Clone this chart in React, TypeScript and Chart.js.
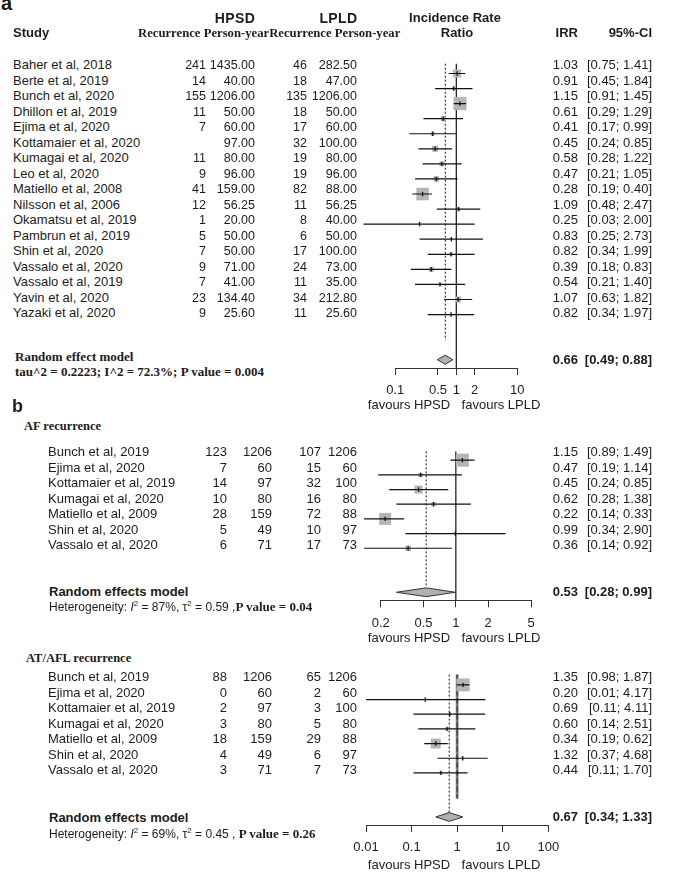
import React, { useEffect, useRef } from "react";
import { Chart, registerables } from "chart.js";

Chart.register(...registerables);

// ---------------- Panel a : all recurrence ----------------
const studiesA = [
  "Baher et al, 2018", "Berte et al, 2019", "Bunch et al, 2020", "Dhillon et al, 2019",
  "Ejima et al, 2020", "Kottamaier et al, 2020", "Kumagai et al, 2020", "Leo et al, 2020",
  "Matiello et al, 2008", "Nilsson et al, 2006", "Okamatsu et al, 2019", "Pambrun et al, 2019",
  "Shin et al, 2020", "Vassalo et al, 2020", "Vassalo et al, 2019", "Yavin et al, 2020", "Yazaki et al, 2020",
];
const hpsdRecA = [241, 14, 155, 11, 7, null, 11, 9, 41, 12, 1, 5, 7, 9, 7, 23, 9];
const hpsdPyA = [1435, 40, 1206, 50, 60, 97, 80, 96, 159, 56.25, 20, 50, 50, 71, 41, 134.4, 25.6];
const lpldRecA = [46, 18, 135, 18, 17, 32, 19, 19, 82, 11, 8, 6, 17, 24, 11, 34, 11];
const lpldPyA = [282.5, 47, 1206, 50, 60, 100, 80, 96, 88, 56.25, 40, 50, 100, 73, 35, 212.8, 25.6];
const irrA = [1.03, 0.91, 1.15, 0.61, 0.41, 0.45, 0.58, 0.47, 0.28, 1.09, 0.25, 0.83, 0.82, 0.39, 0.54, 1.07, 0.82];
const loA = [0.75, 0.45, 0.91, 0.29, 0.17, 0.24, 0.28, 0.21, 0.19, 0.48, 0.03, 0.25, 0.34, 0.18, 0.21, 0.63, 0.34];
const hiA = [1.41, 1.84, 1.45, 1.29, 0.99, 0.85, 1.22, 1.05, 0.4, 2.47, 2.0, 2.73, 1.99, 0.83, 1.4, 1.82, 1.97];
const weightA = [10.1, 1.4, 26.7, 3.9, 2.5, 5.7, 3.9, 4.7, 24.6, 1.9, 0.6, 0.6, 1.4, 3.9, 1.4, 5.7, 0.6];
const pooledA = [0.66, 0.49, 0.88];
const ticksA = [0.1, 0.5, 1, 2, 10];
const tickLabelsA = ["0.1", "0.5", "1", "2", "10"];

// ---------------- Panel b : AF and AT/AFL recurrence ----------------
const studiesB = [
  "Bunch et al, 2019", "Ejima et al, 2020", "Kottamaier et al, 2019", "Kumagai et al, 2020",
  "Matiello et al, 2009", "Shin et al, 2020", "Vassalo et al, 2020",
];
const hpsdPyB = [1206, 60, 97, 80, 159, 49, 71];
const lpldPyB = [1206, 60, 100, 80, 88, 97, 73];

const hpsdRecAF = [123, 7, 14, 10, 28, 5, 6];
const lpldRecAF = [107, 15, 32, 16, 72, 10, 17];
const irrAF = [1.15, 0.47, 0.45, 0.62, 0.22, 0.99, 0.36];
const loAF = [0.89, 0.19, 0.24, 0.28, 0.14, 0.34, 0.14];
const hiAF = [1.49, 1.14, 0.85, 1.38, 0.33, 2.9, 0.92];
const weightAF = [37.6, 3.6, 14.3, 4.5, 32.1, 1.3, 6.7];
const pooledAF = [0.53, 0.28, 0.99];
const ticksAF = [0.2, 0.5, 1, 2, 5];
const tickLabelsAF = ["0.2", "0.5", "1", "2", "5"];

const hpsdRecAT = [88, 0, 2, 3, 18, 4, 3];
const lpldRecAT = [65, 2, 3, 5, 29, 6, 7];
const irrAT = [1.35, 0.2, 0.69, 0.6, 0.34, 1.32, 0.44];
const loAT = [0.98, 0.01, 0.11, 0.14, 0.19, 0.37, 0.11];
const hiAT = [1.87, 4.17, 4.11, 2.51, 0.62, 4.68, 1.7];
const weightAT = [56.4, 0.8, 1.3, 3.0, 33.4, 2.1, 3.0];
const pooledAT = [0.67, 0.34, 1.33];
const ticksAT = [0.01, 0.1, 1, 10, 100];
const tickLabelsAT = ["0.01", "0.1", "1", "10", "100"];

// ---------------- layout / style ----------------
const ROW = 15.5;
const CANVAS_LEFT = 300;
const CANVAS_W = 283;
const AXIS_H = 45;
const SANS = '"Liberation Sans", Arial, Helvetica, sans-serif';
const SERIF = '"Liberation Serif", "Times New Roman", serif';
const INK = "#1c1c1c";

type ForestProps = {
  irr: number[]; lo: number[]; hi: number[]; weight: number[]; pooled: number[];
  ticks: number[]; tickLabels: string[];
  rowY0: number; pooledRow: number; axisMin: number; axisMax: number;
  axisLeft: number; axisRight: number; refTop: number; dottedEnd: number;
  thickRef?: boolean; thickEnd?: number;
};

function Forest(p: ForestProps) {
  const ref = useRef<HTMLCanvasElement | null>(null);
  const yMaxRow = p.pooledRow + 0.55;
  const axisY = p.rowY0 + yMaxRow * ROW;
  const top = Math.round(p.rowY0 - 1.6 * ROW);
  const yMinRow = (top - p.rowY0) / ROW;
  const areaH = axisY - top;
  const height = Math.ceil(areaH + AXIS_H);
  const axisH = height - areaH;

  useEffect(() => {
    const canvas = ref.current;
    if (!canvas) return;
    const maxW = Math.max(...p.weight);
    const pts = p.irr.map((v, i) => ({ x: v, y: i }));
    const ci: any[] = [];
    p.irr.forEach((_, i) => {
      ci.push({ x: p.lo[i], y: i }, { x: p.hi[i], y: i }, { x: p.hi[i], y: null });
    });
    const [est, plo, phi] = p.pooled;
    const h = 0.3;
    const r = p.pooledRow;
    const diamond = [
      { x: plo, y: r }, { x: est, y: r - h }, { x: phi, y: r }, { x: est, y: r + h }, { x: plo, y: r },
    ];
    const ds: any[] = [];
    if (p.thickRef) {
      const seg = [{ x: 1, y: p.refTop }, { x: 1, y: p.thickEnd }];
      ds.push({ type: "line", data: seg, borderColor: "#7a7a7a", borderWidth: 2.8, pointRadius: 0, fill: false, order: 8, clip: false });
      ds.push({ type: "line", data: seg, borderColor: "#2a2a2a", borderWidth: 1, borderDash: [5, 3], pointRadius: 0, fill: false, order: 7, clip: false });
    } else {
      ds.push({ type: "line", data: [{ x: 1, y: p.refTop }, { x: 1, y: yMaxRow }], borderColor: "#111", borderWidth: 1.2, pointRadius: 0, fill: false, order: 8, clip: false });
    }
    ds.push({ type: "line", data: [{ x: est, y: p.refTop }, { x: est, y: p.dottedEnd }], borderColor: "#111", borderWidth: 1, borderDash: [2, 2], pointRadius: 0, fill: false, order: 6, clip: false });
    ds.push({
      type: "scatter", data: pts, pointStyle: "rect",
      pointRadius: p.weight.map((w) => Math.max(1.6, 13 * Math.sqrt(w / maxW)) / Math.SQRT2),
      pointBackgroundColor: "#b5b5b5", pointBorderWidth: 0, pointBorderColor: "rgba(0,0,0,0)", order: 5, clip: false,
    });
    ds.push({ type: "line", data: ci, borderColor: "#111", borderWidth: 1.2, pointRadius: 0, spanGaps: false, fill: false, order: 4, clip: false });
    ds.push({ type: "scatter", data: pts, pointStyle: "line", pointRotation: 90, pointRadius: 2.2, pointBorderColor: "#111", pointBorderWidth: 1.3, order: 3, clip: false });
    ds.push({ type: "line", data: diamond, fill: "shape", backgroundColor: "#b0b0b0", borderColor: "#333", borderWidth: 1, pointRadius: 0, order: 1, clip: false });

    const chart = new Chart(canvas, {
      type: "scatter",
      data: { datasets: ds },
      options: {
        responsive: false,
        maintainAspectRatio: false,
        animation: false,
        events: [],
        layout: { padding: { left: p.axisLeft - CANVAS_LEFT, right: CANVAS_LEFT + CANVAS_W - p.axisRight, top: 0, bottom: 0 } },
        plugins: { legend: { display: false }, tooltip: { enabled: false }, title: { display: false } },
        scales: {
          x: {
            type: "logarithmic", position: "bottom", min: p.axisMin, max: p.axisMax,
            afterBuildTicks: (s: any) => { s.ticks = p.ticks.map((v) => ({ value: v })); },
            afterFit: (s: any) => { s.height = axisH; },
            ticks: {
              autoSkip: false, maxRotation: 0, minRotation: 0, padding: 8, color: INK,
              font: { family: SANS, size: 13 },
              callback: (v: any) => { const i = p.ticks.indexOf(Number(v)); return i >= 0 ? p.tickLabels[i] : ""; },
            },
            grid: { display: true, drawOnChartArea: false, drawTicks: true, tickLength: 7, color: "#333", lineWidth: 1 },
            border: { display: true, color: "#333", width: 1 },
            title: { display: false },
          },
          y: { type: "linear", display: false, min: yMinRow, max: yMaxRow, reverse: true },
        },
      } as any,
    } as any);
    return () => chart.destroy();
  }, []);

  return (
    <canvas
      ref={ref}
      width={CANVAS_W}
      height={height}
      style={{ position: "absolute", left: CANVAS_LEFT, top, width: CANVAS_W, height }}
    />
  );
}

function T({ x, y, a = "l", f = SANS, s = 13, b = false, st = {}, children }: any) {
  const style: any = {
    position: "absolute", top: y - 9, lineHeight: "18px", fontFamily: f, fontSize: s,
    fontWeight: b ? "bold" : "normal", whiteSpace: "nowrap", color: INK, ...st,
  };
  if (a === "l") style.left = x;
  else if (a === "r") style.right = 683 - x;
  else { style.left = x - 150; style.width = 300; style.textAlign = "center"; }
  return <div style={style}>{children}</div>;
}

const Sup = ({ c }: any) => <span style={{ fontSize: 8, position: "relative", top: -5 }}>{c}</span>;

function Rows({ studies, hRec, hPy, lRec, lPy, irr, lo, hi, y0, studyX, cols, dec, ns = 13 }: any) {
  const out: any[] = [];
  studies.forEach((s: string, i: number) => {
    const y = y0 + i * ROW;
    const fmt = (v: number) => (dec ? v.toFixed(2) : String(v));
    out.push(<T key={"s" + i} x={studyX} y={y}>{s}</T>);
    if (hRec[i] !== null) out.push(<T key={"a" + i} x={cols[0]} y={y} a="r" s={ns}>{hRec[i]}</T>);
    out.push(<T key={"b" + i} x={cols[1]} y={y} a="r" s={ns}>{fmt(hPy[i])}</T>);
    out.push(<T key={"c" + i} x={cols[2]} y={y} a="r" s={ns}>{lRec[i]}</T>);
    out.push(<T key={"d" + i} x={cols[3]} y={y} a="r" s={ns}>{fmt(lPy[i])}</T>);
    out.push(<T key={"e" + i} x={578} y={y} a="r">{irr[i].toFixed(2)}</T>);
    out.push(<T key={"f" + i} x={652} y={y} a="r">{`[${lo[i].toFixed(2)}; ${hi[i].toFixed(2)}]`}</T>);
  });
  return <>{out}</>;
}

function Pooled({ y, v }: any) {
  return (
    <>
      <T x={578} y={y} a="r" b>{v[0].toFixed(2)}</T>
      <T x={652} y={y} a="r" b>{`[${v[1].toFixed(2)}; ${v[2].toFixed(2)}]`}</T>
    </>
  );
}

function Favours({ y }: any) {
  return (
    <>
      <T x={409} y={y} a="c">favours HPSD</T>
      <T x={501} y={y} a="c">favours LPLD</T>
    </>
  );
}

export default function App() {
  const yA = 65;
  const yAF = 452.3;
  const yAT = 677;
  return (
    <div style={{ position: "absolute", left: 0, top: 0, width: 683, height: 883, background: "#fff", overflow: "hidden", color: INK }}>
      <Forest irr={irrA} lo={loA} hi={hiA} weight={weightA} pooled={pooledA} ticks={ticksA} tickLabels={tickLabelsA}
        rowY0={yA} pooledRow={19} axisMin={0.1} axisMax={10} axisLeft={395.3} axisRight={517.3} refTop={-0.65} dottedEnd={17.7} />
      <Forest irr={irrAF} lo={loAF} hi={hiAF} weight={weightAF} pooled={pooledAF} ticks={ticksAF} tickLabels={tickLabelsAF}
        rowY0={yAF} pooledRow={9} axisMin={0.2} axisMax={5} axisLeft={380.7} axisRight={531} refTop={-0.6} dottedEnd={8.7} />
      <Forest irr={irrAT} lo={loAT} hi={hiAT} weight={weightAT} pooled={pooledAT} ticks={ticksAT} tickLabels={tickLabelsAT}
        rowY0={yAT} pooledRow={9} axisMin={0.01} axisMax={100} axisLeft={366} axisRight={548.3} refTop={-0.7} dottedEnd={8.7}
        thickRef thickEnd={7.75} />

      {/* panel a header */}
      <T x={1} y={2} s={20} b st={{ lineHeight: "20px", top: -7 }}>a</T>
      <T x={235} y={18} a="c" s={14} b st={{ letterSpacing: "0.4px" }}>HPSD</T>
      <T x={338.5} y={18} a="c" s={14} b st={{ letterSpacing: "0.4px" }}>LPLD</T>
      <T x={455} y={18} a="c" b>Incidence Rate</T>
      <T x={13} y={33} b>Study</T>
      <T x={138} y={33} f={SERIF} s={12.7} b>Recurrence Person-yearRecurrence Person-year</T>
      <T x={457} y={33} a="c" b>Ratio</T>
      <T x={578} y={33} a="r" b>IRR</T>
      <T x={652} y={33} a="r" b>95%-CI</T>

      <Rows studies={studiesA} hRec={hpsdRecA} hPy={hpsdPyA} lRec={lpldRecA} lPy={lpldPyA} irr={irrA} lo={loA} hi={hiA}
        y0={yA} studyX={13} cols={[206, 255, 307, 357]} dec ns={12.5} />
      <T x={15} y={357} f={SERIF} b>Random effect model</T>
      <T x={15} y={372} f={SERIF} b>tau^2 = 0.2223; I^2 = 72.3%; P value = 0.004</T>
      <Pooled y={359.5} v={pooledA} />
      <Favours y={405} />

      {/* panel b */}
      <T x={12} y={406} s={18} b>b</T>
      <T x={24} y={426} f={SERIF} s={12.5} b>AF recurrence</T>
      <Rows studies={studiesB} hRec={hpsdRecAF} hPy={hpsdPyB} lRec={lpldRecAF} lPy={lpldPyB} irr={irrAF} lo={loAF} hi={hiAF}
        y0={yAF} studyX={48} cols={[227, 272, 321, 357]} />
      <T x={49} y={592} b>Random effects model</T>
      <T x={49} y={607} s={12}>
        Heterogeneity: <i>I</i><Sup c="2" /> = 87%, τ<Sup c="2" /> = 0.59 ,
        <span style={{ fontFamily: SERIF, fontWeight: "bold", fontSize: 13 }}>P value = 0.04</span>
      </T>
      <Pooled y={591.8} v={pooledAF} />
      <Favours y={638} />

      <T x={26} y={658} f={SERIF} s={12.5} b>AT/AFL recurrence</T>
      <Rows studies={studiesB} hRec={hpsdRecAT} hPy={hpsdPyB} lRec={lpldRecAT} lPy={lpldPyB} irr={irrAT} lo={loAT} hi={hiAT}
        y0={yAT} studyX={48} cols={[227, 272, 321, 357]} />
      <T x={49} y={818} b>Random effects model</T>
      <T x={49} y={834} s={12}>
        Heterogeneity: <i>I</i><Sup c="2" /> = 69%, τ<Sup c="2" /> = 0.45 ,
        <span style={{ fontFamily: SERIF, fontWeight: "bold", fontSize: 13 }}> P value = 0.26</span>
      </T>
      <Pooled y={817} v={pooledAT} />
      <Favours y={865} />
    </div>
  );
}
